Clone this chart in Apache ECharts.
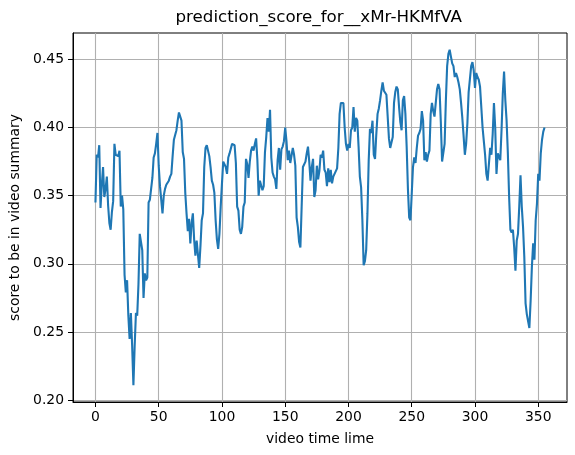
<!DOCTYPE html>
<html>
<head>
<meta charset="utf-8">
<script src="https://cdn.jsdelivr.net/npm/echarts@6.0.0/dist/echarts.min.js"></script>
<style>
  html, body { margin: 0; padding: 0; background: #fff; }
  #main { width: 575px; height: 455px; }
</style>
</head>
<body>
<div id="main"></div>
<script>
// data
var titleText = 'prediction_score_for__xMr-HKMfVA';
var xName = 'video time lime';
var yName = 'score to be in video summary';

var xTicks = [0, 50, 100, 150, 200, 250, 300, 350];
var yTicks = [0.20, 0.25, 0.30, 0.35, 0.40, 0.45];

// score per second, 0..355
var scores = [
	0.345, 0.380, 0.378, 0.387, 0.341, 0.358, 0.371, 0.349, 0.355, 0.364,
	0.343, 0.330, 0.325, 0.338, 0.346, 0.388, 0.380, 0.380, 0.379, 0.383,
	0.342, 0.350, 0.340, 0.292, 0.279, 0.288, 0.262, 0.245, 0.264, 0.240,
	0.211, 0.240, 0.264, 0.262, 0.285, 0.322, 0.323, 0.310, 0.275, 0.293,
	0.288, 0.290, 0.345, 0.347, 0.355, 0.363, 0.378, 0.381, 0.388, 0.396,
	0.372, 0.357, 0.356, 0.337, 0.350, 0.355, 0.358, 0.358, 0.361, 0.364,
	0.366, 0.379, 0.391, 0.391, 0.398, 0.405, 0.411, 0.411, 0.405, 0.382,
	0.377, 0.352, 0.337, 0.324, 0.333, 0.315, 0.330, 0.337, 0.318, 0.306,
	0.317, 0.307, 0.297, 0.313, 0.332, 0.337, 0.371, 0.385, 0.387, 0.386,
	0.379, 0.371, 0.361, 0.358, 0.352, 0.332, 0.318, 0.311, 0.322, 0.342,
	0.359, 0.375, 0.375, 0.371, 0.366, 0.378, 0.381, 0.381, 0.388, 0.387,
	0.387, 0.374, 0.342, 0.339, 0.325, 0.322, 0.327, 0.342, 0.345, 0.377,
	0.373, 0.363, 0.375, 0.383, 0.386, 0.383, 0.388, 0.392, 0.376, 0.350,
	0.361, 0.360, 0.354, 0.357, 0.382, 0.393, 0.407, 0.397, 0.413, 0.378,
	0.367, 0.364, 0.362, 0.355, 0.376, 0.385, 0.369, 0.384, 0.386, 0.390,
	0.400, 0.390, 0.376, 0.383, 0.374, 0.375, 0.385, 0.380, 0.372, 0.334,
	0.327, 0.316, 0.312, 0.342, 0.371, 0.372, 0.375, 0.381, 0.386, 0.375,
	0.361, 0.371, 0.377, 0.349, 0.354, 0.372, 0.362, 0.368, 0.380, 0.378,
	0.383, 0.369, 0.367, 0.357, 0.370, 0.360, 0.369, 0.359, 0.364, 0.366,
	0.368, 0.370, 0.385, 0.410, 0.418, 0.419, 0.418, 0.400, 0.388, 0.383,
	0.388, 0.385, 0.398, 0.400, 0.415, 0.397, 0.407, 0.405, 0.386, 0.364,
	0.356, 0.332, 0.299, 0.302, 0.310, 0.337, 0.376, 0.399, 0.396, 0.405,
	0.380, 0.377, 0.395, 0.410, 0.414, 0.420, 0.427, 0.433, 0.427, 0.426,
	0.424, 0.423, 0.392, 0.385, 0.385, 0.393, 0.418, 0.426, 0.430, 0.428,
	0.415, 0.404, 0.398, 0.420, 0.423, 0.410, 0.386, 0.355, 0.334, 0.332,
	0.351, 0.371, 0.378, 0.374, 0.385, 0.394, 0.396, 0.399, 0.412, 0.405,
	0.376, 0.382, 0.375, 0.380, 0.383, 0.410, 0.418, 0.412, 0.408, 0.418,
	0.428, 0.432, 0.428, 0.404, 0.375, 0.374, 0.388, 0.420, 0.445, 0.454,
	0.457, 0.452, 0.447, 0.445, 0.437, 0.440, 0.437, 0.433, 0.428, 0.418,
	0.407, 0.394, 0.380, 0.388, 0.403, 0.426, 0.425, 0.445, 0.448, 0.442,
	0.429, 0.440, 0.437, 0.435, 0.430, 0.415, 0.400, 0.390, 0.380, 0.366,
	0.361, 0.362, 0.385, 0.380, 0.395, 0.418, 0.400, 0.366, 0.381, 0.381,
	0.376, 0.398, 0.425, 0.441, 0.420, 0.405, 0.381, 0.349, 0.325, 0.323,
	0.325, 0.312, 0.295, 0.317, 0.322, 0.342, 0.365, 0.342, 0.327, 0.305,
	0.271, 0.263, 0.262, 0.253, 0.273, 0.298, 0.315, 0.303, 0.332, 0.344,
	0.366, 0.361, 0.381, 0.391, 0.397, 0.400
];

var points = scores.map(function (v, i) { return [i, v]; });

var myChart = echarts.init(document.getElementById('main'));

var font = 'DejaVu Sans';

myChart.setOption({
	animation: false,
	backgroundColor: '#fff',
	textStyle: { fontFamily: font },
	grid: {
		left: 71, right: 8, top: 33, bottom: 53,
		show: true, borderColor: '#000', borderWidth: 1,
		containLabel: false
	},
	graphic: [{
		type: 'text',
		x: 318.7, y: 18,
		style: {
			text: titleText,
			fontFamily: font, fontSize: 16.7, fill: '#000',
			align: 'center', verticalAlign: 'middle'
		}
	}],
	xAxis: {
		type: 'value',
		min: -17.75, max: 372.75,
		name: xName, nameLocation: 'middle', nameGap: 30,
		nameTextStyle: { color: '#000', fontSize: 13.9, fontFamily: font },
		axisLine: { show: true, onZero: false, lineStyle: { color: '#000', width: 1 } },
		axisTick: { show: true, length: 5, customValues: xTicks, lineStyle: { color: '#000' } },
		axisLabel: { customValues: xTicks, color: '#000', fontSize: 13.9, margin: 8, fontFamily: font },
		splitLine: { show: true, lineStyle: { color: '#b0b0b0', width: 1.1 } }
	},
	yAxis: {
		type: 'value',
		min: 0.1987, max: 0.4693,
		name: yName, nameLocation: 'middle', nameGap: 51,
		nameTextStyle: { color: '#000', fontSize: 13.9, fontFamily: font },
		axisLine: { show: true, onZero: false, lineStyle: { color: '#000', width: 1 } },
		axisTick: { show: true, length: 5, customValues: yTicks, lineStyle: { color: '#000' } },
		axisLabel: {
			customValues: yTicks, color: '#000', fontSize: 13.9, margin: 9, fontFamily: font,
			formatter: function (v) { return v.toFixed(2); }
		},
		splitLine: { show: true, lineStyle: { color: '#b0b0b0', width: 1.1 } }
	},
	series: [{
		type: 'line',
		data: points,
		showSymbol: false,
		lineStyle: { color: '#1f77b4', width: 2.1 },
		itemStyle: { color: '#1f77b4' }
	}]
});
</script>
</body>
</html>
